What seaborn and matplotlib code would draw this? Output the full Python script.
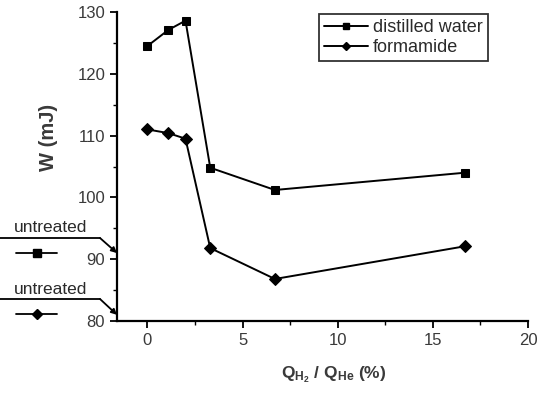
import matplotlib
matplotlib.use("Agg")
import matplotlib.pyplot as plt
import seaborn as sns
import pandas as pd
from matplotlib.lines import Line2D
from matplotlib.ticker import MultipleLocator

# ---- data ----
q_ratio = [0, 1.1, 2.0, 3.3, 6.7, 16.7]
w_water = [124.5, 127.1, 128.6, 104.8, 101.2, 104.0]
w_formamide = [111.0, 110.4, 109.5, 91.8, 86.8, 92.1]
series_names = ["distilled water", "formamide"]
untreated_values = [91.0, 81.0]
x_ticks = [0, 5, 10, 15, 20]
y_ticks = [80, 90, 100, 110, 120, 130]

df = pd.DataFrame({
    "Q": q_ratio * 2,
    "W": w_water + w_formamide,
    "liquid": [series_names[0]] * len(q_ratio) + [series_names[1]] * len(q_ratio),
})

sns.set_style("ticks")
plt.rcParams["font.family"] = ["Liberation Sans", "DejaVu Sans"]
plt.rcParams["mathtext.fontset"] = "custom"
plt.rcParams["mathtext.rm"] = "Liberation Sans:bold"
plt.rcParams["mathtext.it"] = "Liberation Sans:bold"

W, H = 539, 394
fig = plt.figure(figsize=(W / 100, H / 100), dpi=100)
ax = fig.add_axes([117 / W, 1 - 321 / H, (528 - 117) / W, (321 - 12) / H])

sns.lineplot(data=df, x="Q", y="W", hue="liquid", style="liquid",
             markers={series_names[0]: "s", series_names[1]: "D"},
             dashes=False, sort=False, palette=["black", "black"],
             markersize=6, markeredgecolor="black", linewidth=1.4, ax=ax, legend=False)

ax.set_xlim(-1.6, 20)
ax.set_ylim(80, 130)
ax.set_xticks(x_ticks)
ax.set_yticks(y_ticks)
ax.xaxis.set_minor_locator(MultipleLocator(2.5))
ax.yaxis.set_minor_locator(MultipleLocator(5))
ax.tick_params(which="major", direction="out", length=5, width=1.3, labelsize=12,
               labelcolor="#3a3a3a", color="black")
ax.tick_params(which="minor", direction="out", length=3, width=1.0, color="black")
for s in ["top", "right"]:
    ax.spines[s].set_visible(False)
for s in ["left", "bottom"]:
    ax.spines[s].set_linewidth(1.6)
    ax.spines[s].set_color("black")

ax.set_xlabel(r"Q$_{\mathregular{H_2}}$ / Q$_{\mathregular{He}}$ (%)", fontsize=12.5,
              fontweight="bold", color="#3a3a3a")
ax.set_ylabel("W (mJ)", fontsize=14.5, fontweight="bold", color="#3a3a3a")
ax.xaxis.set_label_coords(0.526, -0.14)
ax.yaxis.set_label_coords(-0.143, 0.595)

# legend
handles = [Line2D([], [], color="black", marker="s", markersize=5, linewidth=1.4),
           Line2D([], [], color="black", marker="D", markersize=4, linewidth=1.4)]
leg = ax.legend(handles, series_names, loc="upper right", bbox_to_anchor=(0.908, 1.0),
                fontsize=13, frameon=True, fancybox=False, edgecolor="black",
                borderpad=0.3, handlelength=2.4, handletextpad=0.3, labelspacing=0.15,
                borderaxespad=0.1)
leg.get_frame().set_linewidth(1.3)
for t in leg.get_texts():
    t.set_color("#2a2a2a")

# untreated annotations (outside axes, left)
markers_u = ["s", "D"]
text_y = [228, 289]
for val, ty, mk in zip(untreated_values, text_y, markers_u):
    fig.text(14 / W, 1 - ty / H, "untreated", fontsize=12.5, va="center", ha="left", color="#2a2a2a")
    ly = 1 - (ty + 10) / H
    fig.add_artist(Line2D([0, 100 / W], [ly, ly], color="black", lw=1.3, transform=fig.transFigure))
    ax.annotate("", xy=(0, val), xycoords=("axes fraction", "data"),
                xytext=(100 / W, ly), textcoords="figure fraction",
                arrowprops=dict(arrowstyle="-|>", color="black", lw=1.3, mutation_scale=8,
                                shrinkA=0, shrinkB=0))
    my = 1 - (ty + 25) / H
    fig.add_artist(Line2D([16 / W, 57 / W], [my, my], color="black", lw=1.3, transform=fig.transFigure))
    fig.add_artist(Line2D([37 / W], [my], color="black", marker=mk, markersize=6 if mk == "s" else 5,
                          transform=fig.transFigure))

fig.savefig("out.png", dpi=100)
